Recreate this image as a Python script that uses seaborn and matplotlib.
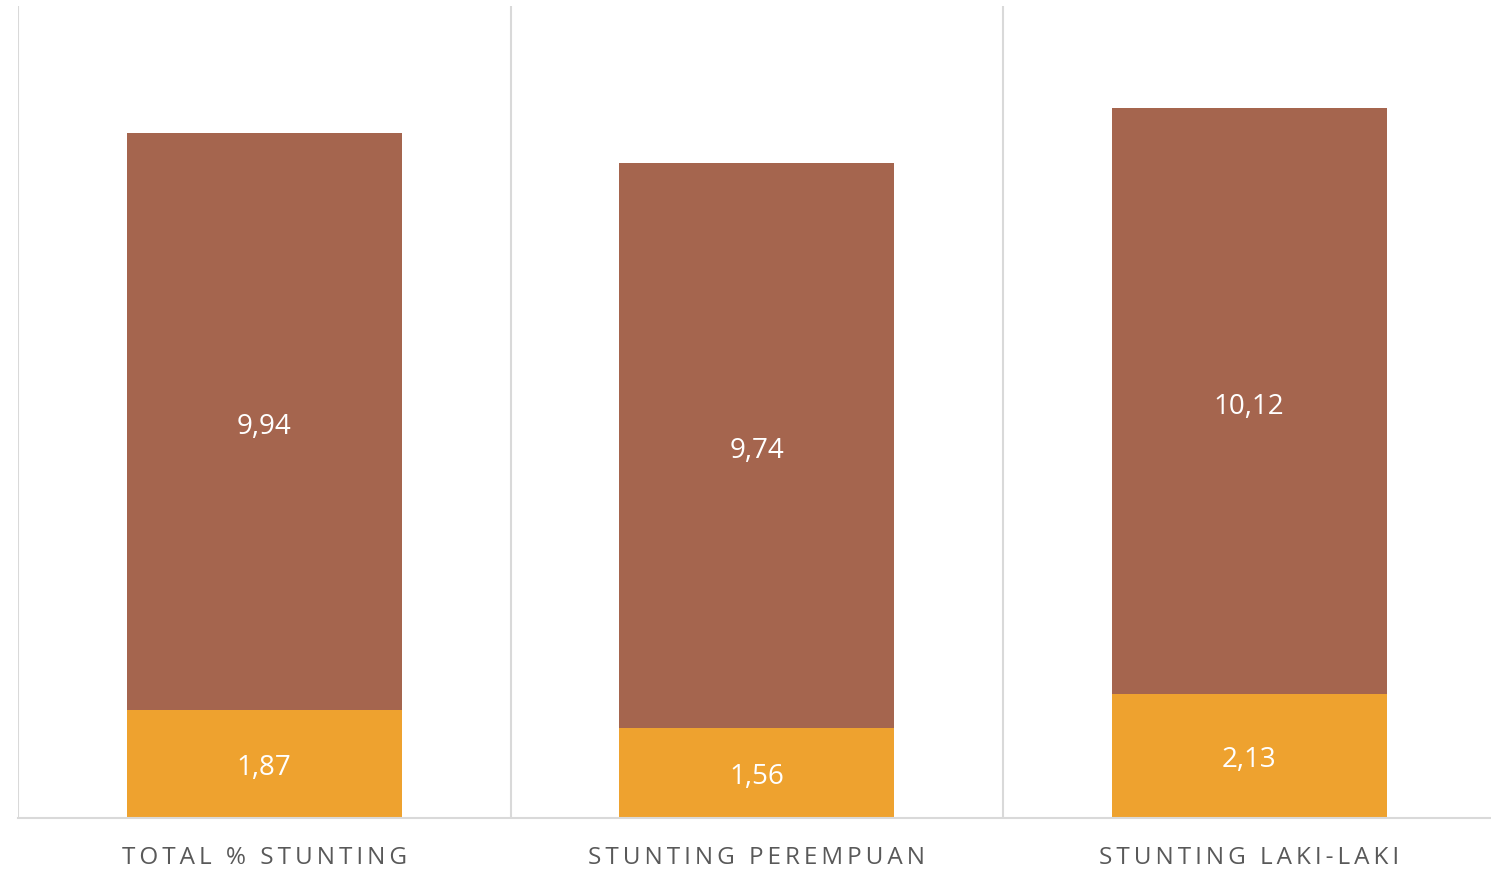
import pandas as pd
import matplotlib
matplotlib.use('Agg')
import matplotlib.pyplot as plt
import seaborn as sns

# chart values
categories = ['TOTAL % STUNTING', 'STUNTING PEREMPUAN', 'STUNTING LAKI-LAKI']
bottom_values = [1.87, 1.56, 2.13]
top_values = [9.94, 9.74, 10.12]

orange = '#EEA22F'
brown = '#A5654E'

sns.set_theme(style='white')
plt.rcParams['font.family'] = ['Open Sans', 'DejaVu Sans']

df = pd.DataFrame({'cat': categories, 'bottom': bottom_values, 'top': top_values})
df['total'] = df['bottom'] + df['top']

fig = plt.figure(figsize=(14.91, 8.69), dpi=100)
ax = fig.add_axes([18 / 1491, 51 / 869, 1477.5 / 1491, 812 / 869])

# stacked bars: total drawn first, orange part over it
sns.barplot(data=df, x='cat', y='total', color=brown, width=0.558, saturation=1,
            linewidth=0, ax=ax)
sns.barplot(data=df, x='cat', y='bottom', color=orange, width=0.558, saturation=1,
            linewidth=0, ax=ax)

ax.set_ylim(0, 14)
ax.set_xlim(-0.5, 2.5)

# category separators
for x in [-0.5, 0.5, 1.5]:
    ax.axvline(x, color='#D9D9D9', lw=1.5, zorder=0)

for s in ['top', 'right', 'left']:
    ax.spines[s].set_visible(False)
ax.spines['bottom'].set_color('#D9D9D9')
ax.spines['bottom'].set_linewidth(1.5)

ax.set_yticks([])
ax.set_xlabel('')
ax.set_ylabel('')


def fmt(v):
    return f'{v:.2f}'.replace('.', ',')


for i in range(len(categories)):
    b = bottom_values[i]
    t = top_values[i]
    ax.annotate(fmt(b), (i, b / 2), xytext=(0, -3), textcoords='offset points',
                ha='center', va='center', color='white', fontsize=20)
    ax.annotate(fmt(t), (i, b + t / 2), xytext=(0, -4), textcoords='offset points',
                ha='center', va='center', color='white', fontsize=20)


# spaced-out category labels
def spaced(s):
    return '\u2009'.join(list(s))


ax.set_xticks(range(len(categories)))
ax.set_xticklabels([spaced(c) for c in categories], color='#595959', fontsize=17.5)
ax.tick_params(axis='x', length=0, pad=20)

fig.savefig('out.png', dpi=100)
